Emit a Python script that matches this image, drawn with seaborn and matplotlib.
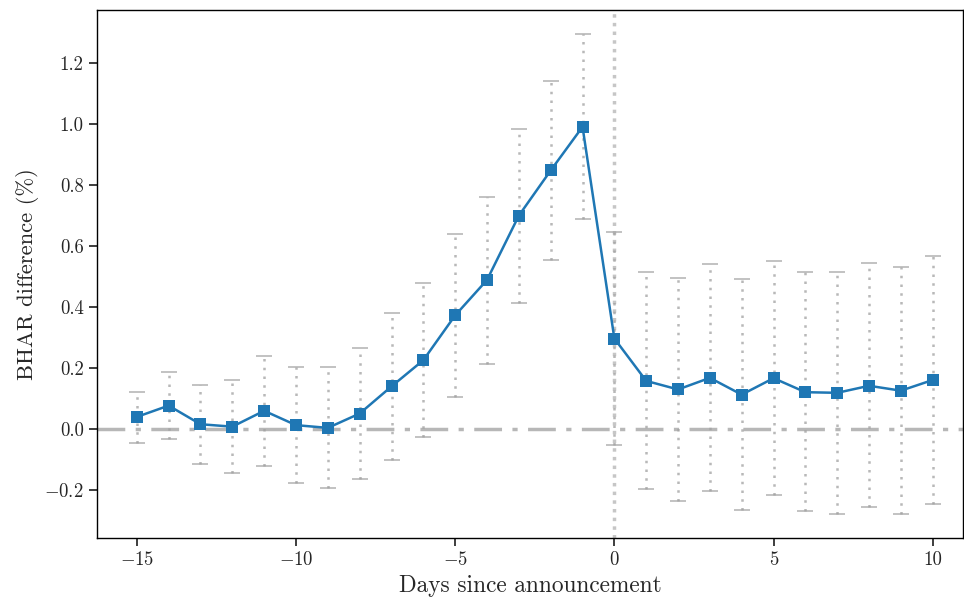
import numpy as np
import pandas as pd
import matplotlib
matplotlib.use("Agg")
import matplotlib.pyplot as plt
import seaborn as sns

days = list(range(-15, 11))
bhar = [0.040, 0.077, 0.016, 0.008, 0.060, 0.013, 0.004, 0.051, 0.140, 0.226,
        0.373, 0.489, 0.700, 0.848, 0.991, 0.297, 0.158, 0.130, 0.168, 0.113,
        0.167, 0.121, 0.119, 0.142, 0.126, 0.161]
upper = [0.123, 0.186, 0.145, 0.162, 0.240, 0.202, 0.204, 0.266, 0.381, 0.480,
         0.638, 0.762, 0.985, 1.142, 1.295, 0.645, 0.514, 0.495, 0.541, 0.492,
         0.550, 0.514, 0.516, 0.543, 0.530, 0.567]
lower = [-0.044, -0.034, -0.113, -0.145, -0.120, -0.176, -0.193, -0.162, -0.102, -0.027,
         0.106, 0.214, 0.414, 0.553, 0.689, -0.051, -0.196, -0.235, -0.204, -0.266,
         -0.215, -0.268, -0.277, -0.257, -0.277, -0.245]

sns.set_theme(style="ticks")
plt.rcParams["font.family"] = "serif"
plt.rcParams["font.serif"] = ["cmr10", "DejaVu Serif"]
plt.rcParams["mathtext.fontset"] = "cm"
plt.rcParams["axes.formatter.use_mathtext"] = True
plt.rcParams["axes.unicode_minus"] = True

df = pd.DataFrame({"day": days, "bhar": bhar, "upper": upper, "lower": lower})

fig = plt.figure(figsize=(9.64, 5.97), dpi=100)
ax = fig.add_axes([97/964, 59/597, 866/964, 528/597])

y = np.array(bhar)
yerr = [y - np.array(lower), np.array(upper) - y]
eb = ax.errorbar(df["day"], df["bhar"], yerr=yerr, fmt="none", ecolor="#a0a0a0",
                 alpha=0.75, capsize=6, elinewidth=1.8, capthick=1.2, zorder=1)
for lc in eb[2]:
    lc.set_linestyle((0, (1, 2.5)))

ax.axhline(0, color="#b0b0b0", lw=2.5, ls=(0, (8, 3, 1.5, 3)), alpha=0.9, zorder=0)
ax.axvline(0, color="#b8b8b8", lw=2.5, ls=(0, (1, 1.5)), alpha=0.8, zorder=0)

sns.lineplot(data=df, x="day", y="bhar", ax=ax, marker="s", markersize=8,
             color="#1f77b4", linewidth=1.8, markeredgewidth=0, zorder=3)

ax.set_xlim(-16.25, 10.95)
ax.set_ylim(-0.357, 1.374)
ax.set_xticks([-15, -10, -5, 0, 5, 10])
ax.set_yticks([-0.2, 0.0, 0.2, 0.4, 0.6, 0.8, 1.0, 1.2])
ax.yaxis.set_major_formatter(matplotlib.ticker.FuncFormatter(
    lambda v, p: ("$-$" if v < -1e-9 else "") + f"{abs(v):.1f}"))
ax.xaxis.set_major_formatter(matplotlib.ticker.FuncFormatter(
    lambda v, p: ("$-$" if v < 0 else "") + f"{abs(int(v))}"))
ax.tick_params(labelsize=13.5)
ax.set_xlabel("Days since announcement", fontsize=16.8)
ax.set_ylabel("BHAR difference (%)", fontsize=16.3)
for s in ax.spines.values():
    s.set_visible(True)
    s.set_linewidth(1.0)
    s.set_color("black")

fig.savefig("out.png", dpi=100)
